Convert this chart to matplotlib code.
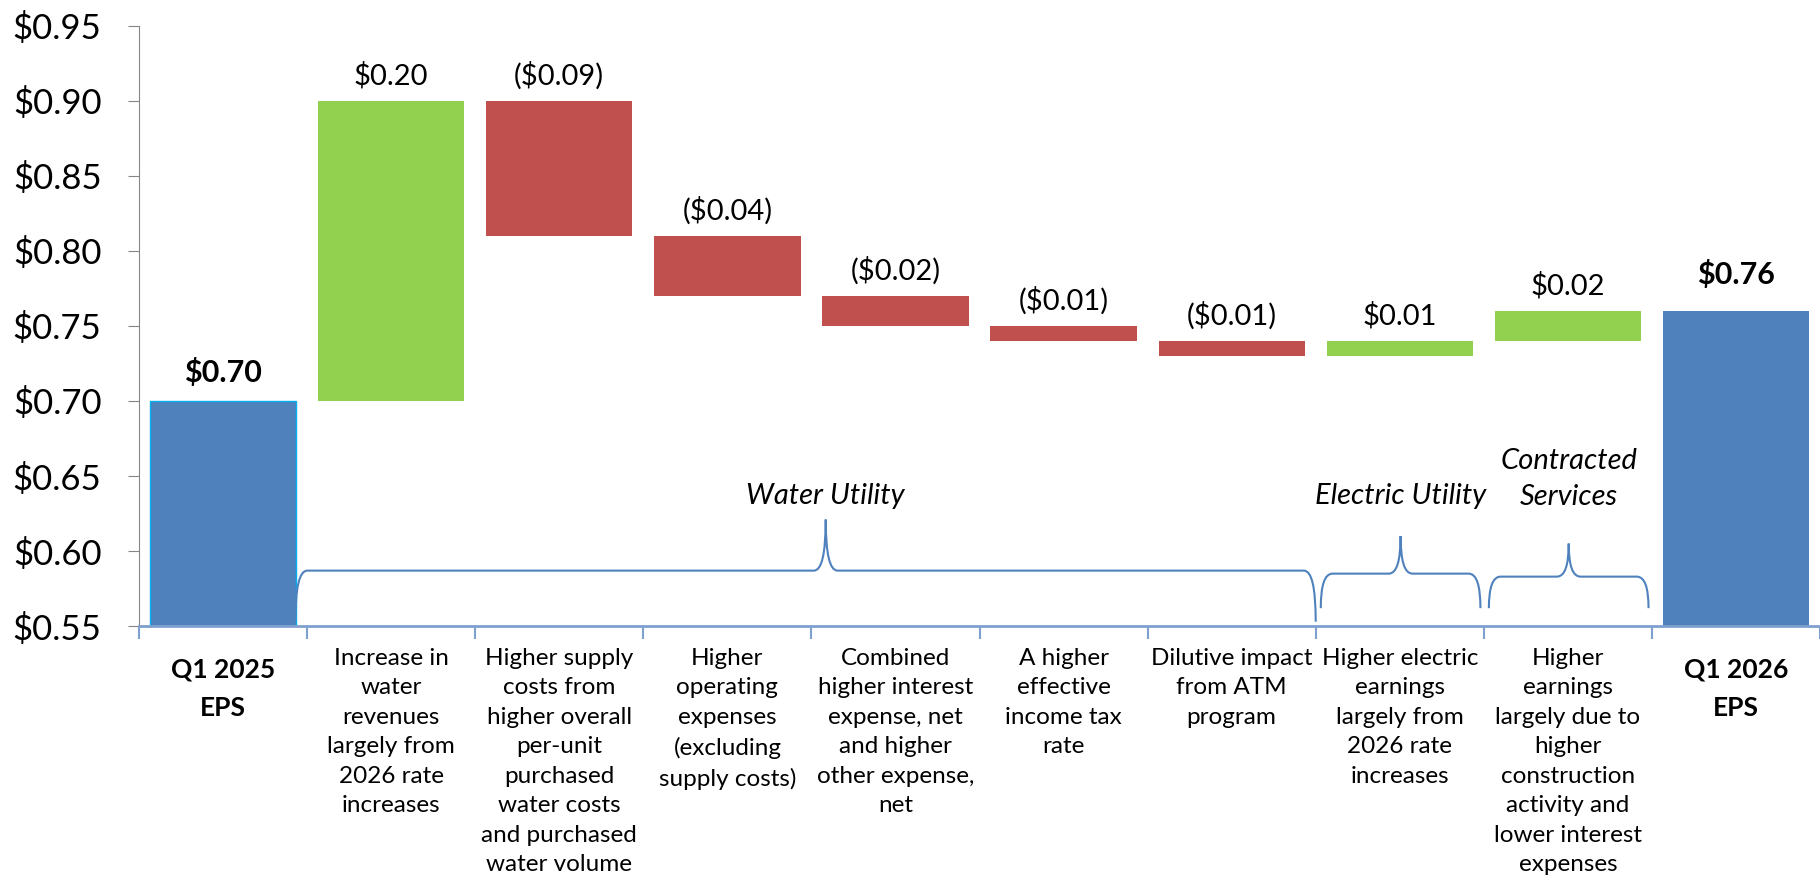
import matplotlib.pyplot as plt
from matplotlib.path import Path
from matplotlib.patches import PathPatch

plt.rcParams['font.family'] = ['Lato', 'DejaVu Sans']

# waterfall data
categories = ["Q1 2025\nEPS",
              "Increase in\nwater\nrevenues\nlargely from\n2026 rate\nincreases",
              "Higher supply\ncosts from\nhigher overall\nper-unit\npurchased\nwater costs\nand purchased\nwater volume",
              "Higher\noperating\nexpenses\n(excluding\nsupply costs)",
              "Combined\nhigher interest\nexpense, net\nand higher\nother expense,\nnet",
              "A higher\neffective\nincome tax\nrate",
              "Dilutive impact\nfrom ATM\nprogram",
              "Higher electric\nearnings\nlargely from\n2026 rate\nincreases",
              "Higher\nearnings\nlargely due to\nhigher\nconstruction\nactivity and\nlower interest\nexpenses",
              "Q1 2026\nEPS"]
start_eps = 0.70
changes = [0.20, -0.09, -0.04, -0.02, -0.01, -0.01, 0.01, 0.02]
end_eps = 0.76
yticks = [0.55, 0.60, 0.65, 0.70, 0.75, 0.80, 0.85, 0.90, 0.95]

# segment braces: label, first category, last category, line height, tip height, label height
groups = [("Water Utility", 1, 6, 0.587, 0.621, 0.637),
          ("Electric Utility", 7, 7, 0.585, 0.610, 0.637),
          ("Contracted\nServices", 8, 8, 0.583, 0.605, 0.648)]

blue = '#4F81BD'
green = '#92D050'
red = '#C0504D'
base = 0.55

fig = plt.figure(figsize=(18.2, 8.92), dpi=100)
ax = fig.add_axes([0.0764, 0.298, 0.9236, 0.6734])

w = 0.87
ax.bar(0, start_eps - base, bottom=base, width=w, color=blue, edgecolor='#00B0F0', linewidth=1)
ax.annotate("$%.2f" % start_eps, (0, start_eps), xytext=(0, 10), textcoords='offset points',
            ha='center', va='bottom', fontsize=22, fontweight='bold')

level = start_eps
for i, c in enumerate(changes, start=1):
    lo = min(level, level + c)
    hi = max(level, level + c)
    ax.bar(i, hi - lo, bottom=lo, width=w, color=green if c > 0 else red)
    txt = "$%.2f" % c if c > 0 else "($%.2f)" % -c
    ax.annotate(txt, (i, hi), xytext=(0, 8), textcoords='offset points',
                ha='center', va='bottom', fontsize=21)
    level += c

n = len(categories) - 1
ax.bar(n, end_eps - base, bottom=base, width=w, color=blue)
ax.annotate("$%.2f" % end_eps, (n, end_eps), xytext=(0, 16), textcoords='offset points',
            ha='center', va='bottom', fontsize=22, fontweight='bold')

# braces
def brace(x0, x1, xm, yl, yt, ye, dx=0.07):
    verts = [(x0, ye), (x0, yl), (x0 + dx, yl),
             (xm - dx, yl), (xm, yl), (xm, yt),
             (xm, yl), (xm + dx, yl),
             (x1 - dx, yl), (x1, yl), (x1, ye)]
    codes = [Path.MOVETO, Path.CURVE3, Path.CURVE3,
             Path.LINETO, Path.CURVE3, Path.CURVE3,
             Path.CURVE3, Path.CURVE3,
             Path.LINETO, Path.CURVE3, Path.CURVE3]
    ax.add_patch(PathPatch(Path(verts, codes), fill=False, edgecolor=blue, lw=1.5))

ends = [0.553, 0.562, 0.562]
for (name, a, b, yl, yt, ylab), ye in zip(groups, ends):
    x0 = a - 0.57 if a == 1 else a - 0.47
    x1 = b + 0.5 if b == 6 else b + 0.48
    xm = (x0 + x1) / 2 + (0.12 if a == 1 else 0)
    brace(x0, x1, xm, yl, yt, ye)
    ax.text(xm, ylab, name, ha='center', va='center',
            fontsize=21, style='italic', linespacing=1.5)

ax.set_xlim(-0.5, n + 0.5)
ax.set_ylim(0.55, 0.95)
ax.set_yticks(yticks)
ax.set_yticklabels(["$%.2f" % v for v in yticks], fontsize=25)
ax.tick_params(axis='y', length=8, color='#868686', pad=19)
ax.set_xticks([i - 0.5 for i in range(len(categories) + 1)])
ax.set_xticklabels([])
ax.tick_params(axis='x', length=9, color='#7FA0CF', width=1.5)

for s in ['top', 'right']:
    ax.spines[s].set_visible(False)
ax.spines['left'].set_color('#868686')
ax.spines['bottom'].set_color('#7FA0CF')
ax.spines['bottom'].set_linewidth(2)

xt = ax.get_xaxis_transform()
for i, lab in enumerate(categories):
    if i == 0 or i == n:
        ax.text(i, -0.052, lab, transform=xt, ha='center', va='top', fontsize=19,
                fontweight='bold', linespacing=1.75)
    else:
        ax.text(i, -0.036, lab, transform=xt, ha='center', va='top', fontsize=17.5,
                linespacing=1.5)

fig.savefig('out.png', dpi=100)
